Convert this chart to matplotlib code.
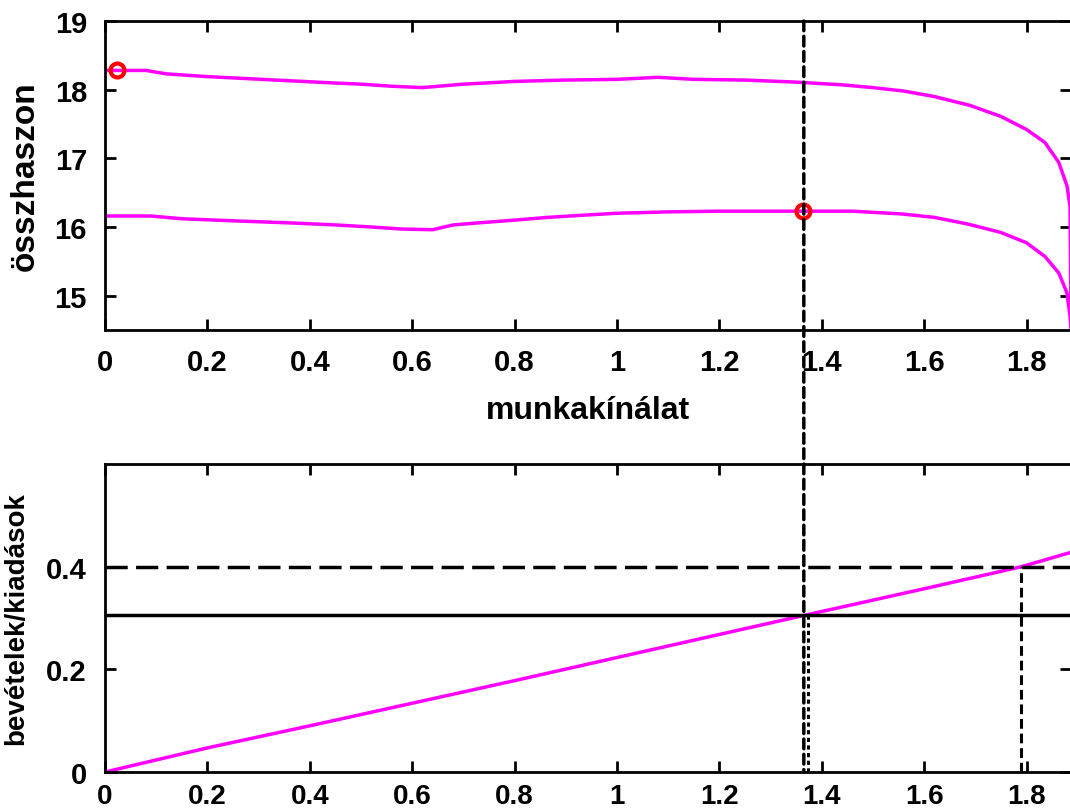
import numpy as np
import matplotlib.pyplot as plt
from matplotlib.patches import ConnectionPatch

plt.rcParams['font.family'] = ['Liberation Sans', 'DejaVu Sans']
plt.rcParams['font.weight'] = 'bold'
plt.rcParams['lines.scale_dashes'] = False

# upper panel: total utility curves
x_hi = [0, 0.08, 0.12, 0.2, 0.28, 0.36, 0.44, 0.5, 0.56, 0.62, 0.7, 0.8, 0.9, 1.0,
        1.08, 1.15, 1.25, 1.35, 1.44, 1.5, 1.56, 1.62, 1.69, 1.75, 1.80, 1.836,
        1.863, 1.879, 1.885, 1.887]
u_hi = [18.28, 18.28, 18.23, 18.19, 18.16, 18.13, 18.10, 18.08, 18.05, 18.03, 18.08,
        18.12, 18.14, 18.15, 18.18, 18.15, 18.14, 18.11, 18.07, 18.03, 17.98, 17.90,
        17.77, 17.61, 17.42, 17.23, 16.94, 16.60, 16.30, 14.5]

x_lo = [0, 0.09, 0.15, 0.25, 0.36, 0.45, 0.52, 0.58, 0.64, 0.68, 0.73, 0.80, 0.865,
        0.93, 1.0, 1.1, 1.2, 1.3, 1.365, 1.46, 1.556, 1.62, 1.687, 1.75, 1.80, 1.836,
        1.863, 1.879, 1.885, 1.887]
u_lo = [16.16, 16.16, 16.12, 16.09, 16.06, 16.03, 16.0, 15.97, 15.96, 16.03, 16.06,
        16.10, 16.14, 16.17, 16.20, 16.22, 16.23, 16.23, 16.23, 16.23, 16.19, 16.14,
        16.04, 15.92, 15.77, 15.57, 15.33, 15.04, 14.7, 14.5]

# optimum markers
opt_x = [0.024, 1.363]
opt_u = [18.28, 16.23]

# lower panel: revenue / expenditure
x_rev = [0, 0.2, 0.4, 0.6, 0.8, 1.0, 1.2, 1.365, 1.6, 1.79, 1.887]
rev = [0, 0.047, 0.09, 0.134, 0.178, 0.223, 0.268, 0.305, 0.357, 0.40, 0.428]
spend_lo = 0.305
spend_hi = 0.40
x_cut = 1.365
x_cut2 = 1.79

xticks = [0, 0.2, 0.4, 0.6, 0.8, 1, 1.2, 1.4, 1.6, 1.8]
xlabels = ['0', '0.2', '0.4', '0.6', '0.8', '1', '1.2', '1.4', '1.6', '1.8']

fig = plt.figure(figsize=(10.7, 8.12), dpi=100)
ax1 = fig.add_axes([0.0981, 0.5924, 0.9029, 0.3805])
ax2 = fig.add_axes([0.0981, 0.048, 0.9029, 0.3793])

ax1.plot(x_hi, u_hi, color='#ff00ff', lw=2.5)
ax1.plot(x_lo, u_lo, color='#ff00ff', lw=2.5)
ax1.plot(opt_x, opt_u, 'o', mfc='none', mec='red', mew=3, ms=10)
ax1.set_xlim(0, 1.887)
ax1.set_ylim(14.5, 19)
ax1.set_yticks([15, 16, 17, 18, 19])
ax1.set_ylabel('összhaszon', fontsize=24, fontweight='bold', labelpad=10)
ax1.set_xlabel('munkakínálat', fontsize=23, fontweight='bold', labelpad=14)

ax2.plot(x_rev, rev, color='#ff00ff', lw=2.5)
ax2.axhline(spend_hi, color='k', lw=2.5, dashes=(16, 6))
ax2.axhline(spend_lo, color='k', lw=2.5)
ax2.plot([x_cut2, x_cut2], [0, spend_hi], color='k', lw=2.2, dashes=(7, 3.5))
ax2.plot([x_cut + 0.008, x_cut + 0.008], [0, spend_lo], color='k', lw=2.2, dashes=(3, 2.5))
ax2.set_xlim(0, 1.887)
ax2.set_ylim(0, 0.6)
ax2.set_yticks([0, 0.2, 0.4])
ax2.set_yticklabels(['0', '0.2', '0.4'])
ax2.set_ylabel('bevételek/kiadások', fontsize=20, fontweight='bold', labelpad=12)

for ax in (ax1, ax2):
    ax.set_xticks(xticks)
    ax.set_xticklabels(xlabels)
    ax.tick_params(direction='in', length=8, width=2, top=True, right=True,
                   labelsize=21, pad=13)
    for s in ax.spines.values():
        s.set_linewidth(2)
# bottom labels sit right at the lower edge
ax2.tick_params(axis='x', labelsize=20, pad=8)

# dashed line spanning both panels
con = ConnectionPatch(xyA=(x_cut, 19), coordsA=ax1.transData,
                      xyB=(x_cut, 0), coordsB=ax2.transData,
                      color='k', lw=2.5, linestyle=(0, (7, 4)))
fig.add_artist(con)

plt.savefig('out.png', dpi=100)
